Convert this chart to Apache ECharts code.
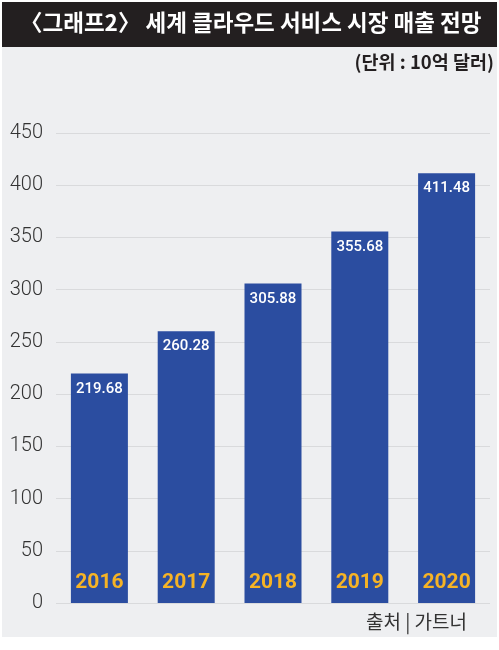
<!DOCTYPE html>
<html>
<head>
<meta charset="utf-8">
<script src="https://cdn.jsdelivr.net/npm/echarts@6/dist/echarts.min.js"></script>
<style>
html,body{margin:0;padding:0;background:#ffffff;}
#chart{width:499px;height:650px;}
</style>
</head>
<body>
<div id="chart"></div>
<script>
const titleText = '〈그래프2〉 세계 클라우드 서비스 시장 매출 전망';
const unitText = '(단위 : 10억 달러)';
const sourceText = '출처 | 가트너';
const years = ['2016', '2017', '2018', '2019', '2020'];
const revenue = [219.68, 260.28, 305.88, 355.68, 411.48];
const yTicks = [0, 50, 100, 150, 200, 250, 300, 350, 400, 450];

const chart = echarts.init(document.getElementById('chart'), null, {renderer: 'canvas'});
const option = {
  backgroundColor: '#ffffff',
  animation: false,
  graphic: [
    {type: 'rect', left: 2, top: 47, shape: {width: 495, height: 590}, style: {fill: '#eeeff1'}, z: -10},
    {type: 'rect', left: 2, top: 2, shape: {width: 495, height: 45}, style: {fill: '#231f20'}, z: -5},
    {type: 'text', left: 20, top: 11, style: {text: titleText, fill: '#ffffff', font: 'bold 22.5px "Noto Sans CJK KR", sans-serif'}},
    {type: 'text', right: 5, top: 53, style: {text: unitText, fill: '#231f20', font: 'bold 18.5px "Noto Sans CJK KR", sans-serif'}},
    {type: 'text', left: 366, top: 612, style: {text: sourceText, fill: '#333333', font: '19px "Noto Sans CJK KR", sans-serif'}}
  ],
  grid: {left: 56, right: 9, top: 133, bottom: 47, containLabel: false},
  xAxis: {
    type: 'category',
    data: years,
    axisLine: {show: false},
    axisTick: {show: false},
    axisLabel: {show: false}
  },
  yAxis: {
    type: 'value',
    min: yTicks[0],
    max: yTicks[yTicks.length - 1],
    interval: 50,
    axisLine: {show: false},
    axisTick: {show: false},
    axisLabel: {color: '#333333', fontSize: 20, fontFamily: 'Roboto', fontWeight: 300, margin: 13},
    splitLine: {lineStyle: {color: '#d9dadc', width: 1}}
  },
  series: [
    {
      type: 'bar',
      data: revenue,
      barWidth: 57,
      itemStyle: {color: '#2b4da0'},
      label: {
        show: true,
        position: 'insideTop',
        distance: 8,
        color: '#ffffff',
        fontSize: 15,
        fontFamily: 'Roboto',
        fontWeight: 500,
        formatter: p => p.value.toFixed(2)
      }
    },
    {
      type: 'bar',
      data: revenue,
      barWidth: 57,
      barGap: '-100%',
      silent: true,
      itemStyle: {color: 'rgba(0,0,0,0)'},
      label: {
        show: true,
        position: 'insideBottom',
        distance: 10,
        color: '#f6b325',
        fontSize: 21,
        fontFamily: 'Roboto',
        fontWeight: 'bold',
        formatter: p => p.name
      }
    }
  ]
};
chart.setOption(option);
</script>
</body>
</html>
